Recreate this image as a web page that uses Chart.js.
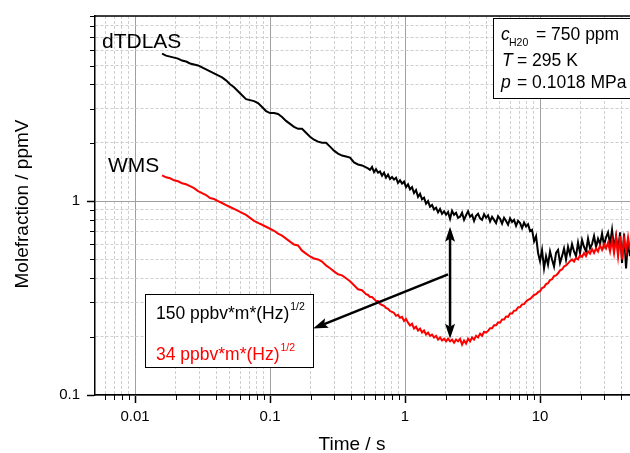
<!DOCTYPE html>
<html>
<head>
<meta charset="utf-8">
<title>Allan deviation dTDLAS / WMS</title>
<script src="https://cdn.jsdelivr.net/npm/chart.js@4.4.1/dist/chart.umd.min.js"></script>
<style>
  html, body { margin: 0; padding: 0; background: #fff; }
</style>
</head>
<body>
<canvas id="allanChart" width="630" height="453"></canvas>
<script>
// integration time (s)
const tau = [
  0.01585, 0.01697, 0.01817, 0.01945, 0.02082, 0.02229, 0.02387, 0.02555, 0.02735, 0.02929,
  0.03135, 0.03357, 0.03594, 0.03847, 0.04119, 0.04410, 0.04721, 0.05055, 0.05412, 0.05794,
  0.06203, 0.06641, 0.07110, 0.07612, 0.08149, 0.08725, 0.09341, 0.1, 0.1071, 0.1146,
  0.1227, 0.1314, 0.1407, 0.1506, 0.1612, 0.1726, 0.1848, 0.1978, 0.2118, 0.2267,
  0.2427, 0.2599, 0.2782, 0.2978, 0.3189, 0.3414, 0.3655, 0.3913, 0.4189, 0.4485,
  0.4801, 0.5140,
  0.5318, 0.5503, 0.5694, 0.5892, 0.6097, 0.6308, 0.6527, 0.6754, 0.6988, 0.7231,
  0.7482, 0.7742, 0.8011, 0.8289, 0.8576, 0.8874, 0.9182, 0.9501, 0.9831, 1.0172,
  1.0525, 1.0890, 1.1269, 1.1660, 1.2065, 1.2483, 1.2917, 1.3365, 1.3829, 1.4309,
  1.4806, 1.5320, 1.5852, 1.6402, 1.6972, 1.7561, 1.8171, 1.8802, 1.9454, 2.0130,
  2.0828, 2.1552, 2.2300, 2.3074, 2.3875, 2.4704, 2.5561, 2.6449, 2.7367, 2.8317,
  2.9300, 3.0318, 3.1370, 3.2459, 3.3586, 3.4752, 3.5958, 3.7206, 3.8498, 3.9834,
  4.1217, 4.2648, 4.4128, 4.5660, 4.7245, 4.8885, 5.0582, 5.2338, 5.4155, 5.6035,
  5.7980, 5.9993, 6.2075, 6.4230, 6.6460, 6.8767, 7.1154, 7.3624, 7.6180, 7.8824,
  8.1560, 8.4391, 8.7320, 9.0351, 9.3487, 9.6733, 10.0, 10.35, 10.71, 11.08,
  11.46, 11.86, 12.27, 12.70, 13.14, 13.60, 14.07, 14.56, 15.06, 15.58,
  16.12, 16.68, 17.26, 17.86, 18.48, 19.12, 19.79, 20.48, 21.18, 21.92,
  22.68, 23.47, 24.28, 25.13, 26.00, 26.90, 27.84, 28.80, 29.80, 30.84,
  31.91, 33.02, 34.16, 35.35, 36.58, 37.85, 39.16, 40.52, 41.93, 43.38,
  44.89, 46.30
];

// molefraction deviation (ppmV)
const dTDLAS = [
  5.755, 5.621, 5.556, 5.49, 5.429, 5.302, 5.24, 5.121, 5.061, 5.002,
  4.886, 4.772, 4.661, 4.552, 4.446, 4.343, 4.191, 4.0, 3.861, 3.684,
  3.515, 3.353, 3.314, 3.275, 3.199, 3.052, 2.911, 2.844, 2.844, 2.811,
  2.715, 2.59, 2.5, 2.414, 2.358, 2.358, 2.249, 2.146, 2.071, 2.024,
  2.0, 2.0, 1.908, 1.82, 1.757, 1.717, 1.697, 1.677, 1.581, 1.544,
  1.526, 1.491,
  1.474, 1.45, 1.50, 1.41, 1.46, 1.40, 1.42, 1.35, 1.40, 1.32,
  1.37, 1.30, 1.33, 1.29, 1.32, 1.24, 1.28, 1.23, 1.26, 1.18,
  1.22, 1.15, 1.18, 1.10, 1.14, 1.05, 1.09, 1.02, 1.04, 0.97,
  1.0, 0.935, 0.955, 0.905, 0.925, 0.875, 0.91, 0.86, 0.885, 0.85,
  0.879, 0.81, 0.89, 0.85, 0.87, 0.82, 0.83, 0.87, 0.80, 0.845,
  0.885, 0.83, 0.85, 0.79, 0.84, 0.86, 0.815, 0.80, 0.855, 0.82,
  0.845, 0.785, 0.83, 0.80, 0.77, 0.835, 0.81, 0.765, 0.82, 0.79,
  0.755, 0.815, 0.78, 0.80, 0.745, 0.79, 0.77, 0.725, 0.775, 0.74,
  0.76, 0.70, 0.71, 0.62, 0.66, 0.54, 0.49, 0.56, 0.45, 0.52,
  0.47, 0.55, 0.5, 0.46, 0.54, 0.56, 0.48, 0.52, 0.57, 0.5,
  0.58, 0.53, 0.6, 0.55, 0.52, 0.61, 0.54, 0.63, 0.58, 0.55,
  0.64, 0.57, 0.6, 0.66, 0.58, 0.64, 0.6, 0.68, 0.59, 0.65,
  0.69, 0.6, 0.71, 0.57, 0.66, 0.55, 0.69, 0.48, 0.68, 0.45,
  0.63, 0.52
];

const wms = [
  1.358, 1.326, 1.311, 1.28, 1.265, 1.236, 1.221, 1.193, 1.165, 1.125,
  1.099, 1.074, 1.036, 1.024, 1.0, 0.977, 0.954, 0.932, 0.911, 0.89,
  0.869, 0.849, 0.819, 0.791, 0.772, 0.755, 0.737, 0.72, 0.703, 0.679,
  0.663, 0.64, 0.618, 0.597, 0.59, 0.555, 0.536, 0.518, 0.506, 0.5,
  0.488, 0.466, 0.45, 0.434, 0.419, 0.414, 0.4, 0.386, 0.368, 0.351,
  0.347, 0.331,
  0.328, 0.32, 0.32, 0.313, 0.305, 0.305, 0.295, 0.291, 0.288, 0.281,
  0.278, 0.271, 0.268, 0.265, 0.256, 0.259, 0.25, 0.253, 0.241, 0.247,
  0.236, 0.228, 0.233, 0.22, 0.225, 0.215, 0.22, 0.21, 0.215, 0.205,
  0.21, 0.202, 0.205, 0.198, 0.202, 0.193, 0.198, 0.191, 0.195, 0.189,
  0.195, 0.189, 0.193, 0.186, 0.193, 0.189, 0.195, 0.182, 0.191, 0.184,
  0.195, 0.189, 0.198, 0.193, 0.202, 0.198, 0.207, 0.202, 0.212, 0.21,
  0.214, 0.221, 0.221, 0.229, 0.229, 0.237, 0.236, 0.245, 0.245, 0.254,
  0.253, 0.263, 0.263, 0.272, 0.273, 0.283, 0.284, 0.293, 0.294, 0.304,
  0.309, 0.313, 0.32, 0.328, 0.331, 0.339, 0.343, 0.356, 0.36, 0.373,
  0.377, 0.391, 0.395, 0.41, 0.414, 0.424, 0.439, 0.444, 0.46, 0.466,
  0.477, 0.49, 0.5, 0.488, 0.51, 0.5, 0.526, 0.515, 0.54, 0.52,
  0.55, 0.535, 0.565, 0.54, 0.57, 0.55, 0.59, 0.56, 0.6, 0.57,
  0.61, 0.55, 0.63, 0.54, 0.65, 0.52, 0.66, 0.5, 0.64, 0.55,
  0.65, 0.56
];

const xTickValues = [0.01, 0.1, 1, 10];
const xTickLabels = ['0.01', '0.1', '1', '10'];
const yTickValues = [0.1, 1];
const yTickLabels = ['0.1', '1'];

const FONT = '"Liberation Sans", Arial, sans-serif';

function isDecade(v) {
  const l = Math.log10(v);
  return Math.abs(l - Math.round(l)) < 1e-6;
}

// 1..9 x 10^n ticks inside the axis range
function logTicks(min, max) {
  const out = [];
  for (let e = -3; e <= 2; e++) {
    for (let k = 1; k <= 9; k++) {
      const v = parseFloat((k * Math.pow(10, e)).toPrecision(3));
      if (v >= min && v <= max) out.push({ value: v });
    }
  }
  return out;
}

function line(ctx, x1, y1, x2, y2) {
  ctx.beginPath();
  ctx.moveTo(x1, y1);
  ctx.lineTo(x2, y2);
  ctx.stroke();
}

function arrowHead(ctx, fx, fy, tx, ty) {
  const a = Math.atan2(ty - fy, tx - fx);
  const len = 15, half = 5;
  const bx = tx - len * Math.cos(a), by = ty - len * Math.sin(a);
  const nx = tx - len * 0.8 * Math.cos(a), ny = ty - len * 0.8 * Math.sin(a);
  ctx.beginPath();
  ctx.moveTo(tx, ty);
  ctx.lineTo(bx + half * Math.sin(a), by - half * Math.cos(a));
  ctx.lineTo(nx, ny);
  ctx.lineTo(bx - half * Math.sin(a), by + half * Math.cos(a));
  ctx.closePath();
  ctx.fill();
}

const gridColor = c => (c.tick && isDecade(c.tick.value)) ? '#a0a0a0' : '#cfcfcf';
const gridDash = c => (c.tick && !isDecade(c.tick.value)) ? [3, 2] : [];
const tickColor = c => (c.tick && isDecade(c.tick.value)) ? '#000' : 'rgba(0,0,0,0)';

const decorations = {
  id: 'decorations',
  afterDatasetsDraw(chart) {
    const { ctx, chartArea: a, scales: { x, y } } = chart;
    ctx.save();
    ctx.strokeStyle = '#000';
    ctx.fillStyle = '#000';

    // top frame
    ctx.lineWidth = 1.5;
    line(ctx, a.left, a.top, a.right, a.top);

    // minor ticks
    ctx.lineWidth = 1;
    x.ticks.forEach(t => {
      if (isDecade(t.value)) return;
      const px = Math.round(x.getPixelForValue(t.value)) + 0.5;
      line(ctx, px, a.bottom, px, a.bottom + 5);
    });
    y.ticks.forEach(t => {
      if (isDecade(t.value)) return;
      const py = Math.round(y.getPixelForValue(t.value)) + 0.5;
      line(ctx, a.left - 5, py, a.left, py);
    });

    // double arrow between the two curves
    ctx.lineWidth = 2.5;
    const ax = x.getPixelForValue(2.155);
    const ay1 = y.getPixelForValue(0.737), ay2 = y.getPixelForValue(0.195);
    line(ctx, ax, ay1 + 12, ax, ay2 - 12);
    arrowHead(ctx, ax, ay2, ax, ay1);
    arrowHead(ctx, ax, ay1, ax, ay2);

    // pointer to the text box
    const dx1 = x.getPixelForValue(2.083), dy1 = y.getPixelForValue(0.419);
    const dx2 = x.getPixelForValue(0.2083), dy2 = y.getPixelForValue(0.220);
    const ang = Math.atan2(dy2 - dy1, dx2 - dx1);
    line(ctx, dx1, dy1, dx2 - 12 * Math.cos(ang), dy2 - 12 * Math.sin(ang));
    arrowHead(ctx, dx1, dy1, dx2, dy2);

    // sensitivity box
    ctx.lineWidth = 1;
    ctx.fillStyle = '#fff';
    ctx.fillRect(145, 294, 168, 73);
    ctx.strokeRect(145.5, 294.5, 168, 73);
    ctx.textBaseline = 'alphabetic';
    ctx.textAlign = 'left';
    ctx.font = '17.5px ' + FONT;
    ctx.fillStyle = '#000';
    let t1 = '150 ppbv*m*(Hz)';
    ctx.fillText(t1, 156, 319);
    let w1 = ctx.measureText(t1).width;
    ctx.fillStyle = '#ff0000';
    let t2 = '34 ppbv*m*(Hz)';
    ctx.fillText(t2, 156, 360);
    let w2 = ctx.measureText(t2).width;
    ctx.font = '10.5px ' + FONT;
    ctx.fillStyle = '#000';
    ctx.fillText('1/2', 156 + w1 + 1, 310);
    ctx.fillStyle = '#ff0000';
    ctx.fillText('1/2', 156 + w2 + 1, 351);

    // conditions box
    ctx.fillStyle = '#fff';
    ctx.fillRect(493, 18, 140, 80);
    ctx.strokeStyle = '#000';
    ctx.strokeRect(493.5, 18.5, 140, 80);
    ctx.fillStyle = '#000';
    ctx.font = 'italic 17.5px ' + FONT;
    ctx.fillText('c', 501, 40);
    ctx.fillText('T', 502, 66);
    ctx.fillText('p', 501, 88);
    ctx.font = '10.5px ' + FONT;
    ctx.fillText('H20', 509, 46);
    ctx.font = '17.5px ' + FONT;
    ctx.fillText('= 750 ppm', 536, 40);
    ctx.fillText('= 295 K', 517, 66);
    ctx.fillText('= 0.1018 MPa', 517, 88);

    // curve labels
    ctx.font = '21px ' + FONT;
    ctx.fillText('dTDLAS', 102, 48);
    ctx.fillText('WMS', 108, 172);

    // axis titles
    ctx.font = '19px ' + FONT;
    ctx.textAlign = 'center';
    ctx.fillText('Time / s', 352, 450);
    ctx.translate(28, 204);
    ctx.rotate(-Math.PI / 2);
    ctx.fillText('Molefraction / ppmV', 0, 0);
    ctx.restore();
  }
};

const ctx = document.getElementById('allanChart').getContext('2d');
const allanChart = new Chart(ctx, {
  type: 'line',
  data: {
    datasets: [
      {
        label: 'dTDLAS',
        data: tau.map((t, i) => ({ x: t, y: dTDLAS[i] })),
        borderColor: '#000',
        borderWidth: 2,
        pointRadius: 0,
        tension: 0,
        order: 1
      },
      {
        label: 'WMS',
        data: tau.map((t, i) => ({ x: t, y: wms[i] })),
        borderColor: '#ff0000',
        borderWidth: 2,
        pointRadius: 0,
        tension: 0,
        order: 0
      }
    ]
  },
  options: {
    responsive: false,
    animation: false,
    devicePixelRatio: 1,
    layout: { padding: { top: 12, right: 0, left: 0, bottom: 0 } },
    plugins: {
      legend: { display: false },
      tooltip: { enabled: false }
    },
    scales: {
      x: {
        type: 'logarithmic',
        position: 'bottom',
        min: 0.00505,
        max: 46.4,
        afterBuildTicks: s => { s.ticks = logTicks(s.min, s.max); },
        afterFit: s => { s.height = 58; },
        ticks: {
          autoSkip: false,
          maxRotation: 0,
          padding: 5,
          color: '#000',
          font: { family: FONT, size: 15 },
          callback: v => {
            const i = xTickValues.indexOf(v);
            return i >= 0 ? xTickLabels[i] : '';
          }
        },
        grid: {
          color: gridColor,
          lineWidth: 1,
          tickLength: 8,
          tickWidth: 1.5,
          tickColor: tickColor
        },
        border: { color: '#000', width: 1.5, dash: gridDash }
      },
      y: {
        type: 'logarithmic',
        position: 'left',
        min: 0.1,
        max: 9,
        afterBuildTicks: s => { s.ticks = logTicks(s.min, s.max); },
        afterFit: s => { s.width = 95; },
        ticks: {
          autoSkip: false,
          padding: 7,
          color: '#000',
          font: { family: FONT, size: 15 },
          callback: v => {
            const i = yTickValues.indexOf(v);
            return i >= 0 ? yTickLabels[i] : '';
          }
        },
        grid: {
          color: gridColor,
          lineWidth: 1,
          tickLength: 8,
          tickWidth: 1.5,
          tickColor: tickColor
        },
        border: { color: '#000', width: 1.5, dash: gridDash }
      }
    }
  },
  plugins: [decorations]
});
</script>
</body>
</html>
